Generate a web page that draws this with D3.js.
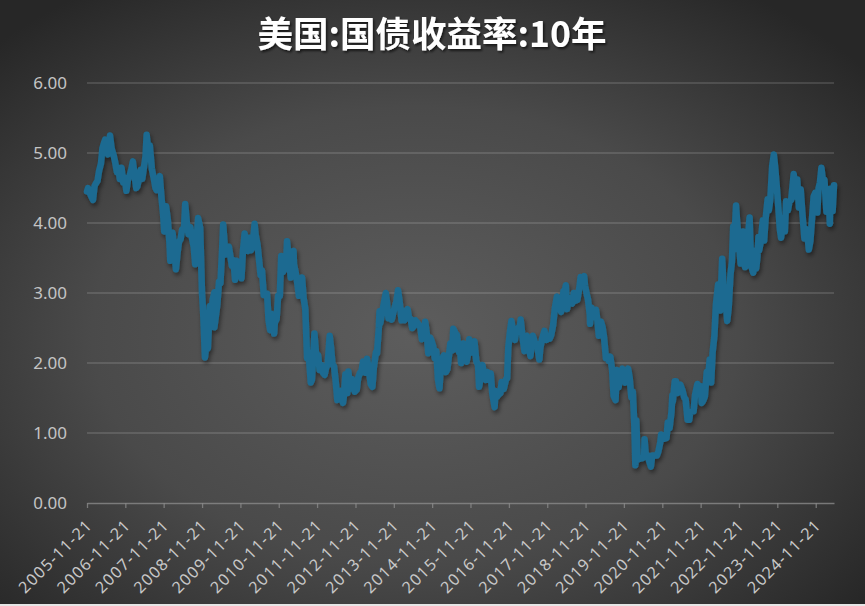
<!DOCTYPE html>
<html>
<head>
<meta charset="utf-8">
<script src="https://cdn.jsdelivr.net/npm/d3@7"></script>
<style>
html,body{margin:0;padding:0;background:#2a2a2a;}
svg{display:block;}
</style>
</head>
<body>
<svg id="chart" width="865" height="606"></svg>
<script>
const chartTitle = "美国:国债收益率:10年";
const xTickLabels = ["2005-11-21","2006-11-21","2007-11-21","2008-11-21","2009-11-21","2010-11-21","2011-11-21","2012-11-21","2013-11-21","2014-11-21","2015-11-21","2016-11-21","2017-11-21","2018-11-21","2019-11-21","2020-11-21","2021-11-21","2022-11-21","2023-11-21","2024-11-21"];
const yTicks = [0,1,2,3,4,5,6];

const dates = [
"2005-11-21","2005-12-01","2005-12-15","2006-01-03","2006-01-17","2006-02-01","2006-02-15","2006-03-01","2006-03-15","2006-04-03","2006-04-17","2006-05-01","2006-05-12","2006-05-26","2006-06-09","2006-06-28","2006-07-14","2006-08-01","2006-08-15","2006-09-01","2006-09-15","2006-09-29","2006-10-16","2006-11-01","2006-11-15","2006-12-01","2006-12-15",
"2007-01-02","2007-01-16","2007-02-01","2007-02-15","2007-03-05","2007-03-15","2007-04-02","2007-04-16","2007-05-01","2007-05-15","2007-06-01","2007-06-12","2007-06-29","2007-07-12","2007-08-01","2007-08-16","2007-09-04","2007-09-14","2007-10-01","2007-10-15","2007-11-01","2007-11-15","2007-11-26","2007-12-14","2007-12-31",
"2008-01-15","2008-01-23","2008-02-01","2008-02-14","2008-03-03","2008-03-17","2008-04-01","2008-04-15","2008-05-01","2008-05-15","2008-06-02","2008-06-13","2008-07-01","2008-07-15","2008-08-01","2008-08-15","2008-09-02","2008-09-16","2008-10-01","2008-10-14","2008-11-03","2008-11-20","2008-12-01","2008-12-18","2008-12-31",
"2009-01-15","2009-02-02","2009-02-10","2009-02-17","2009-03-02","2009-03-17","2009-03-18","2009-04-01","2009-04-15","2009-05-01","2009-05-15","2009-06-01","2009-06-10","2009-07-01","2009-07-15","2009-08-03","2009-08-14","2009-09-01","2009-09-15","2009-10-01","2009-10-15","2009-11-02","2009-11-16","2009-12-01","2009-12-15","2009-12-31",
"2010-01-15","2010-02-01","2010-02-16","2010-03-01","2010-03-15","2010-04-05","2010-04-15","2010-05-03","2010-05-17","2010-06-01","2010-06-15","2010-07-01","2010-07-15","2010-08-02","2010-08-16","2010-08-31","2010-09-15","2010-10-08","2010-10-15","2010-11-01","2010-11-15","2010-12-01","2010-12-15","2010-12-31",
"2011-01-14","2011-02-01","2011-02-08","2011-02-15","2011-03-01","2011-03-16","2011-04-01","2011-04-11","2011-04-15","2011-05-02","2011-05-16","2011-06-01","2011-06-15","2011-07-01","2011-07-15","2011-08-01","2011-08-18","2011-09-01","2011-09-22","2011-10-03","2011-10-27","2011-11-15","2011-12-01","2011-12-15",
"2012-01-03","2012-01-17","2012-02-01","2012-02-15","2012-03-01","2012-03-20","2012-04-02","2012-04-16","2012-05-01","2012-05-15","2012-06-01","2012-06-15","2012-07-02","2012-07-25","2012-08-01","2012-08-17","2012-09-04","2012-09-14","2012-10-01","2012-10-19","2012-11-01","2012-11-15","2012-12-03","2012-12-17",
"2013-01-02","2013-01-15","2013-02-01","2013-02-15","2013-03-01","2013-03-11","2013-04-01","2013-04-15","2013-05-01","2013-05-15","2013-06-03","2013-06-14","2013-07-01","2013-07-08","2013-07-15","2013-08-01","2013-08-15","2013-09-05","2013-09-16","2013-10-01","2013-10-15","2013-11-01","2013-11-15","2013-12-02","2013-12-16","2013-12-31",
"2014-01-15","2014-02-03","2014-02-14","2014-03-03","2014-03-14","2014-04-01","2014-04-15","2014-05-01","2014-05-15","2014-06-02","2014-06-13","2014-07-01","2014-07-15","2014-08-01","2014-08-15","2014-09-02","2014-09-16","2014-10-01","2014-10-15","2014-11-03","2014-11-14","2014-12-01","2014-12-16","2014-12-31",
"2015-01-15","2015-01-30","2015-02-13","2015-03-02","2015-03-13","2015-04-01","2015-04-15","2015-05-01","2015-05-13","2015-06-01","2015-06-10","2015-07-01","2015-07-08","2015-07-15","2015-08-03","2015-08-14","2015-08-24","2015-09-15","2015-10-01","2015-10-15","2015-11-02","2015-11-09","2015-12-01","2015-12-15","2015-12-29",
"2016-01-15","2016-02-01","2016-02-11","2016-03-01","2016-03-15","2016-04-01","2016-04-15","2016-05-02","2016-05-16","2016-06-01","2016-06-15","2016-07-08","2016-07-15","2016-08-01","2016-08-15","2016-09-01","2016-09-13","2016-10-03","2016-10-25","2016-11-04","2016-11-15","2016-12-01","2016-12-15","2016-12-30",
"2017-01-17","2017-02-01","2017-02-15","2017-03-01","2017-03-13","2017-04-03","2017-04-18","2017-05-01","2017-05-11","2017-06-01","2017-06-14","2017-07-03","2017-07-07","2017-08-01","2017-08-15","2017-09-07","2017-09-15","2017-10-02","2017-10-25","2017-11-15","2017-12-01","2017-12-15","2017-12-29",
"2018-01-16","2018-02-01","2018-02-21","2018-03-01","2018-03-15","2018-04-02","2018-04-25","2018-05-01","2018-05-17","2018-05-29","2018-06-15","2018-07-02","2018-07-16","2018-08-01","2018-08-15","2018-09-04","2018-09-25","2018-10-05","2018-10-15","2018-11-08","2018-11-15","2018-12-03","2018-12-14","2018-12-31",
"2019-01-03","2019-01-18","2019-02-01","2019-02-15","2019-03-01","2019-03-15","2019-03-27","2019-04-17","2019-05-01","2019-05-15","2019-06-03","2019-06-14","2019-07-01","2019-07-15","2019-08-01","2019-08-15","2019-09-03","2019-09-13","2019-10-01","2019-10-15","2019-11-07","2019-11-15","2019-12-03","2019-12-13","2019-12-31",
"2020-01-15","2020-01-31","2020-02-14","2020-02-28","2020-03-09","2020-03-18","2020-04-01","2020-04-15","2020-05-01","2020-05-15","2020-06-01","2020-06-05","2020-06-15","2020-07-01","2020-07-15","2020-08-04","2020-08-17","2020-09-01","2020-09-15","2020-10-01","2020-10-15","2020-11-02","2020-11-10","2020-12-01","2020-12-15","2020-12-31",
"2021-01-12","2021-01-29","2021-02-16","2021-02-25","2021-03-01","2021-03-19","2021-03-31","2021-04-15","2021-04-30","2021-05-12","2021-06-01","2021-06-17","2021-07-01","2021-07-19","2021-08-04","2021-08-13","2021-09-01","2021-09-15","2021-09-28","2021-10-21","2021-11-03","2021-11-10","2021-11-23","2021-12-01","2021-12-15","2021-12-31",
"2022-01-18","2022-02-01","2022-02-15","2022-03-01","2022-03-15","2022-04-01","2022-04-15","2022-05-06","2022-05-26","2022-06-14","2022-06-30","2022-07-15","2022-08-01","2022-08-15","2022-09-01","2022-09-15","2022-09-27","2022-10-04","2022-10-24","2022-11-01","2022-11-15","2022-12-07","2022-12-15","2022-12-30",
"2023-01-18","2023-02-01","2023-02-15","2023-03-02","2023-03-17","2023-04-06","2023-04-17","2023-05-04","2023-05-15","2023-05-26","2023-06-01","2023-06-15","2023-07-06","2023-07-19","2023-08-01","2023-08-21","2023-09-01","2023-09-15","2023-10-03","2023-10-19","2023-11-01","2023-11-15","2023-12-01","2023-12-15","2023-12-27",
"2024-01-16","2024-02-01","2024-02-13","2024-03-01","2024-03-15","2024-04-01","2024-04-25","2024-05-01","2024-05-16","2024-05-29","2024-06-14","2024-07-01","2024-07-16","2024-08-05","2024-08-15","2024-09-03","2024-09-16","2024-10-01","2024-10-15","2024-11-01","2024-11-15","2024-12-06","2024-12-18","2024-12-31",
"2025-01-14","2025-02-03","2025-02-12","2025-03-03","2025-03-14","2025-03-27","2025-04-04","2025-04-11","2025-05-01","2025-05-14"
];

const yields = [
4.45,4.50,4.44,4.37,4.33,4.53,4.57,4.60,4.74,4.85,5.07,5.14,5.19,5.07,4.98,5.25,5.06,4.97,4.88,4.73,4.79,4.63,4.79,4.58,4.65,4.46,4.61,
4.68,4.76,4.88,4.71,4.50,4.52,4.65,4.76,4.63,4.77,4.95,5.26,5.03,5.11,4.77,4.66,4.50,4.47,4.58,4.67,4.35,4.14,3.88,4.24,4.04,
3.72,3.46,3.60,3.86,3.61,3.34,3.57,3.73,3.77,3.91,3.93,4.27,3.97,3.84,3.94,3.80,3.66,3.41,3.78,4.07,3.93,3.01,2.73,2.08,2.25,
2.21,2.81,2.82,2.65,2.90,3.01,2.51,2.67,2.83,3.16,3.14,3.66,3.98,3.55,3.60,3.66,3.56,3.39,3.47,3.19,3.46,3.42,3.34,3.21,3.60,3.85,
3.68,3.60,3.79,3.61,3.65,3.99,3.83,3.69,3.48,3.26,3.32,2.97,2.99,2.99,2.61,2.47,2.70,2.42,2.58,2.63,2.96,2.96,3.53,3.30,
3.34,3.48,3.74,3.63,3.43,3.22,3.45,3.60,3.41,3.29,3.15,2.96,2.98,3.22,2.94,2.77,2.07,2.15,1.72,1.76,2.42,2.06,2.11,1.90,
1.97,1.86,1.83,1.93,1.98,2.39,2.22,1.98,1.95,1.76,1.47,1.60,1.60,1.43,1.51,1.84,1.57,1.88,1.63,1.77,1.73,1.59,1.62,1.79,
1.86,1.86,2.02,2.01,1.86,2.06,1.86,1.70,1.66,1.94,2.15,2.14,2.50,2.74,2.57,2.71,2.83,3.00,2.88,2.64,2.73,2.62,2.71,2.81,2.88,3.04,
2.88,2.61,2.75,2.61,2.65,2.77,2.64,2.63,2.50,2.53,2.61,2.58,2.55,2.51,2.34,2.42,2.59,2.42,2.14,2.36,2.32,2.24,2.07,2.17,
1.77,1.64,2.02,2.08,2.11,1.87,1.91,2.12,2.28,2.18,2.49,2.43,2.20,2.40,2.16,2.20,2.00,2.28,2.06,2.02,2.16,2.34,2.15,2.27,2.31,
2.03,1.97,1.66,1.83,1.97,1.79,1.76,1.87,1.76,1.85,1.57,1.37,1.60,1.52,1.55,1.57,1.73,1.63,1.77,1.78,2.22,2.45,2.60,2.45,
2.33,2.48,2.50,2.46,2.62,2.33,2.17,2.32,2.39,2.21,2.10,2.35,2.39,2.26,2.27,2.05,2.20,2.34,2.46,2.33,2.37,2.35,2.40,
2.54,2.78,2.95,2.81,2.82,2.73,3.03,2.97,3.11,2.77,2.93,2.87,2.85,3.00,2.89,2.90,3.10,3.23,3.16,3.24,3.11,2.98,2.91,2.69,
2.56,2.79,2.70,2.66,2.76,2.59,2.39,2.59,2.52,2.38,2.07,2.09,2.03,2.09,1.90,1.53,1.47,1.90,1.65,1.77,1.92,1.84,1.72,1.82,1.92,
1.79,1.51,1.59,1.13,0.54,1.18,0.62,0.63,0.64,0.64,0.66,0.91,0.71,0.68,0.62,0.52,0.68,0.68,0.68,0.68,0.74,0.87,0.98,0.94,0.92,0.93,
1.15,1.07,1.30,1.54,1.45,1.74,1.74,1.57,1.65,1.69,1.61,1.51,1.48,1.19,1.19,1.29,1.31,1.31,1.54,1.70,1.60,1.55,1.67,1.43,1.46,1.52,
1.87,1.81,2.05,1.72,2.15,2.39,2.83,3.12,2.75,3.49,2.98,2.93,2.60,2.79,3.26,3.45,3.95,3.62,4.25,4.07,3.80,3.42,3.45,3.88,
3.37,3.39,3.81,4.08,3.39,3.29,3.60,3.35,3.50,3.80,3.61,3.72,4.04,3.75,4.05,4.34,4.18,4.33,4.81,4.98,4.79,4.54,4.22,3.91,3.79,
4.07,3.88,4.31,4.18,4.30,4.33,4.70,4.63,4.38,4.62,4.22,4.48,4.16,3.78,3.92,3.84,3.62,3.74,4.03,4.38,4.43,4.15,4.50,4.58,
4.79,4.54,4.62,4.16,4.31,4.36,3.99,4.49,4.17,4.54
];

const parse = d3.timeParse("%Y-%m-%d");
const data = dates.map((d, i) => ({ date: parse(d), value: yields[i] }));

const W = 865, H = 606;
const svg = d3.select("#chart");
const defs = svg.append("defs");

const bg = defs.append("radialGradient").attr("id", "bg")
  .attr("cx", "48%").attr("cy", "55%").attr("r", "68%");
bg.append("stop").attr("offset", "0%").attr("stop-color", "#5d5d5d");
bg.append("stop").attr("offset", "55%").attr("stop-color", "#4a4a4a");
bg.append("stop").attr("offset", "100%").attr("stop-color", "#272727");

const shadow = defs.append("filter").attr("id", "shadow")
  .attr("x", "-10%").attr("y", "-10%").attr("width", "120%").attr("height", "130%");
shadow.append("feDropShadow").attr("dx", 1.5).attr("dy", 3).attr("stdDeviation", 2)
  .attr("flood-color", "#000").attr("flood-opacity", 0.45);

const tshadow = defs.append("filter").attr("id", "tshadow")
  .attr("x", "-10%").attr("y", "-30%").attr("width", "120%").attr("height", "160%");
tshadow.append("feDropShadow").attr("dx", 1.5).attr("dy", 2).attr("stdDeviation", 1.2)
  .attr("flood-color", "#000").attr("flood-opacity", 0.6);

svg.append("rect").attr("width", W).attr("height", H).attr("fill", "url(#bg)");
svg.append("rect").attr("x", 0).attr("y", H - 2).attr("width", W).attr("height", 2).attr("fill", "#e6e6e6");

const x = d3.scaleTime()
  .domain(d3.extent(data, d => d.date))
  .range([87, 834]);
const y = d3.scaleLinear().domain([0, 6]).range([503, 83]);

// gridlines
svg.append("g").selectAll("line").data(yTicks.filter(v => v > 0)).join("line")
  .attr("x1", 87).attr("x2", 834)
  .attr("y1", d => y(d)).attr("y2", d => y(d))
  .attr("stroke", "#ffffff").attr("stroke-opacity", 0.17).attr("stroke-width", 1.3);

// y labels
svg.append("g").selectAll("text").data(yTicks).join("text")
  .attr("x", 67).attr("y", d => y(d)).attr("dy", "0.36em")
  .attr("text-anchor", "end")
  .attr("font-family", "'Noto Sans', 'Liberation Sans', sans-serif")
  .attr("font-size", 17).attr("fill", "#c4c4c4")
  .text(d => d3.format(".2f")(d));

// x axis
const tickDates = xTickLabels.map(parse);
const xAxis = d3.axisBottom(x).tickValues(tickDates).tickSize(5).tickSizeOuter(0).tickFormat(d3.timeFormat("%Y-%m-%d"));
const gx = svg.append("g").attr("transform", "translate(0,503)").call(xAxis);
gx.select(".domain").attr("stroke", "#8a8a8a").attr("stroke-opacity", 0.8).attr("stroke-width", 1.3);
gx.selectAll(".tick line").attr("stroke", "#8a8a8a").attr("stroke-opacity", 0.8).attr("stroke-width", 1.3);
gx.selectAll(".tick text")
  .attr("font-family", "'Noto Sans', 'Liberation Sans', sans-serif")
  .attr("font-size", 16).attr("fill", "#c8c8c8")
  .attr("textLength", 95).attr("lengthAdjust", "spacing")
  .attr("text-anchor", "end")
  .attr("x", 0).attr("y", 0).attr("dy", 0)
  .attr("transform", "translate(5,24) rotate(-45)");

// line
const line = d3.line().x(d => x(d.date)).y(d => y(d.value));
svg.append("path").datum(data)
  .attr("d", line)
  .attr("fill", "none")
  .attr("stroke", "#1b6b91")
  .attr("stroke-width", 6.5)
  .attr("stroke-linejoin", "round")
  .attr("stroke-linecap", "round")
  .attr("filter", "url(#shadow)");

// title
svg.append("text")
  .attr("x", 432).attr("y", 47)
  .attr("text-anchor", "middle")
  .attr("font-family", "'Noto Sans CJK SC', sans-serif")
  .attr("font-weight", "bold")
  .attr("font-size", 35.5)
  .attr("fill", "#ffffff")
  .attr("filter", "url(#tshadow)")
  .text(chartTitle);
</script>
</body>
</html>
